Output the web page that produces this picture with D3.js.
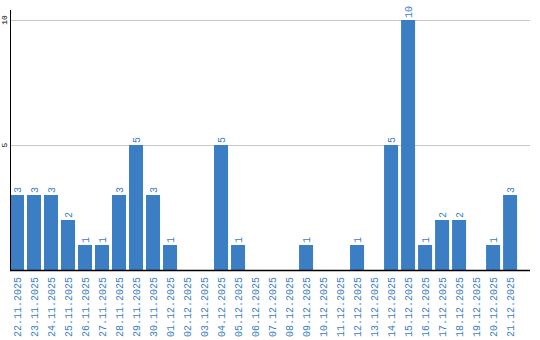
<!DOCTYPE html>
<html>
<head>
<meta charset="utf-8">
<script src="https://cdn.jsdelivr.net/npm/d3@7"></script>
<style>
  body { margin: 0; background: #fff; }
  svg text { font-family: "Liberation Mono", "Courier New", monospace; }
</style>
</head>
<body>
<div id="chart"></div>
<script>
const width = 540, height = 340;

const dates = ["22.11.2025", "23.11.2025", "24.11.2025", "25.11.2025", "26.11.2025", "27.11.2025",
  "28.11.2025", "29.11.2025", "30.11.2025", "01.12.2025", "02.12.2025", "03.12.2025", "04.12.2025",
  "05.12.2025", "06.12.2025", "07.12.2025", "08.12.2025", "09.12.2025", "10.12.2025", "11.12.2025",
  "12.12.2025", "13.12.2025", "14.12.2025", "15.12.2025", "16.12.2025", "17.12.2025", "18.12.2025",
  "19.12.2025", "20.12.2025", "21.12.2025"];
const counts = [3, 3, 3, 2, 1, 1, 3, 5, 3, 1, 0, 0, 5, 1, 0, 0, 0, 1, 0, 0, 1, 0, 5, 10, 1, 2, 2, 0, 1, 3];
const yTicks = [5, 10];

const data = dates.map((d, i) => ({ date: d, value: counts[i] }));
const blue = "#3b7ec4";

const svg = d3.select("#chart").append("svg")
  .attr("width", width)
  .attr("height", height);

const x = d3.scaleBand().domain(dates).range([10, 530])
  .paddingInner(3 / 17).paddingOuter(0.38).align(0);
const y = d3.scaleLinear().domain([0, 10]).range([270, 20]);

// gridlines
svg.selectAll("line.grid")
  .data(yTicks)
  .enter().append("line")
  .attr("x1", 10).attr("x2", 530)
  .attr("y1", d => y(d) + 0.5).attr("y2", d => y(d) + 0.5)
  .attr("stroke", "#c8c8c8").attr("stroke-width", 1);

// y tick labels
svg.selectAll("text.ytick")
  .data(yTicks)
  .enter().append("text")
  .attr("transform", d => `translate(7,${y(d)}) rotate(-90)`)
  .attr("text-anchor", "middle")
  .attr("font-size", "8px")
  .attr("fill", "#000")
  .text(d => d);

// bars
svg.selectAll("rect")
  .data(data.filter(d => d.value > 0))
  .enter().append("rect")
  .attr("x", d => x(d.date))
  .attr("y", d => y(d.value))
  .attr("width", x.bandwidth())
  .attr("height", d => y(0) - y(d.value))
  .attr("fill", blue);

// value labels
svg.selectAll("text.val")
  .data(data.filter(d => d.value > 0))
  .enter().append("text")
  .attr("transform", d => `translate(${x(d.date) + x.bandwidth() / 2 + 3.5},${y(d.value) - 2}) rotate(-90)`)
  .attr("font-size", "10px")
  .attr("fill", blue)
  .text(d => d.value);

// date labels
svg.selectAll("text.date")
  .data(data)
  .enter().append("text")
  .attr("transform", d => `translate(${x(d.date) + x.bandwidth() / 2 + 3.5},277) rotate(-90)`)
  .attr("text-anchor", "end")
  .attr("font-size", "10px")
  .attr("fill", blue)
  .text(d => d.date);

// axes lines
svg.append("line")
  .attr("x1", 10.5).attr("x2", 10.5).attr("y1", 10).attr("y2", 270)
  .attr("stroke", "#000").attr("stroke-width", 1);
svg.append("line")
  .attr("x1", 10).attr("x2", 530).attr("y1", 270.5).attr("y2", 270.5)
  .attr("stroke", "#000").attr("stroke-width", 1.5);
</script>
</body>
</html>
